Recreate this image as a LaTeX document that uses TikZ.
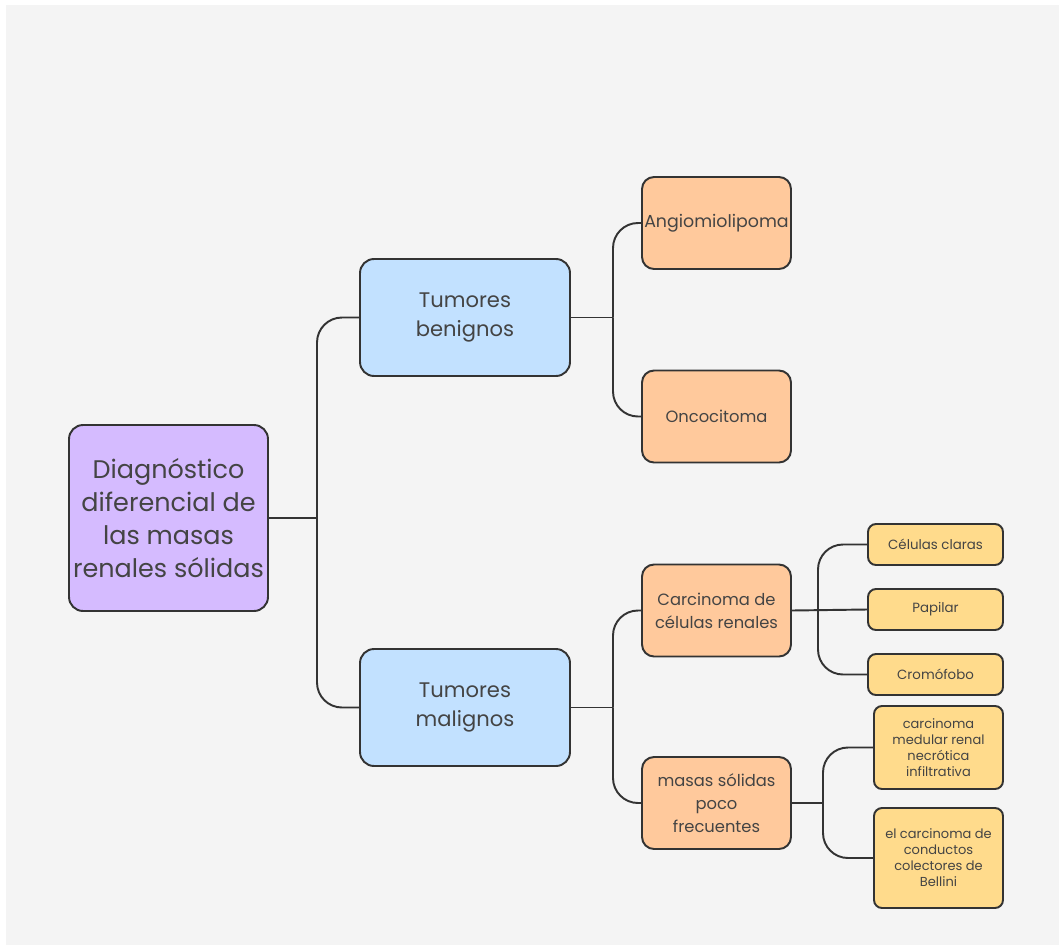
\documentclass[tikz,border=0pt]{standalone}
\usepackage{fontspec}
\setmainfont{Poppins}
\usetikzlibrary{positioning, calc}

\definecolor{canvas}{HTML}{F4F4F4}
\definecolor{inkgray}{HTML}{444444}
\definecolor{edgegray}{HTML}{333333}
\definecolor{rootfill}{HTML}{D5BBFF}
\definecolor{groupfill}{HTML}{C2E1FF}
\definecolor{typefill}{HTML}{FFC99C}
\definecolor{leaffill}{HTML}{FFDB8C}

\begin{document}
\begin{tikzpicture}[
        x=0.02cm, y=-0.02cm,
        box/.style={rectangle, draw=edgegray, line width=1.1pt, text=inkgray, align=center, inner sep=1pt},
        rootbox/.style={box, fill=rootfill, rounded corners=0.28cm, minimum width=3.98cm, minimum height=3.72cm, font=\fontsize{14.5}{18.7}\selectfont},
        groupbox/.style={box, fill=groupfill, rounded corners=0.28cm, minimum width=4.2cm, minimum height=2.34cm, font=\fontsize{12}{16.4}\selectfont},
        typebox/.style={box, fill=typefill, rounded corners=0.24cm, minimum width=2.98cm, minimum height=1.84cm, font=\fontsize{9.3}{13}\selectfont},
        leafbox/.style={box, fill=leaffill, rounded corners=0.16cm, minimum width=2.7cm, minimum height=0.82cm, font=\fontsize{7.6}{9}\selectfont},
        tallleaf/.style={leafbox, minimum width=2.58cm, font=\fontsize{7.4}{9.1}\selectfont},
        conn/.style={draw=edgegray, line width=1.1pt},
        elbow/.style={conn, rounded corners=0.5cm}
    ]
        % canvas
        \fill[white] (0,0) rectangle (1059,947);
        \fill[canvas] (6,5) rectangle (1059,945);

        % Root
        \node[rootbox] (root) at (168.5,518) {Diagnóstico\\diferencial de\\las masas\\renales sólidas};

        % Groups
        \node[groupbox] (benign) at (465,317.5) {Tumores\\benignos};
        \node[groupbox] (malign) at (465,707.5) {Tumores\\malignos};

        \coordinate (rootbus) at (317,518);
        \draw[conn] (root.east) -- (rootbus);
        \draw[elbow] (rootbus) |- (benign.west);
        \draw[elbow] (rootbus) |- (malign.west);

        % Benign tumours
        \node[typebox, inner sep=0pt, font=\fontsize{9.9}{13}\selectfont] (angio) at (716.5,223) {Angiomiolipoma};
        \node[typebox] (onco) at (716.5,416.5) {Oncocitoma};

        \coordinate (benignbus) at (613,317.5);
        \draw[conn] (benign.east) -- (benignbus);
        \draw[elbow] (benignbus) |- (angio.west);
        \draw[elbow] (benignbus) |- (onco.west);

        % Malignant tumours
        \node[typebox] (ccr) at (716.5,610.5) {Carcinoma de\\células renales};
        \node[typebox] (rare) at (716.5,803) {masas sólidas\\poco\\frecuentes};

        \coordinate (malignbus) at (613,707.5);
        \draw[conn] (malign.east) -- (malignbus);
        \draw[elbow] (malignbus) |- (ccr.west);
        \draw[elbow] (malignbus) |- (rare.west);

        % Renal cell subtypes
        \node[leafbox] (clear) at (935.5,544.5) {Células claras};
        \node[leafbox] (papilar) at (935.5,609.5) {Papilar};
        \node[leafbox] (chromo) at (935.5,674.5) {Cromófobo};

        \coordinate (ccrbus) at (818,609.5);
        \draw[conn] (ccr.east) -- (papilar.west);
        \draw[elbow] (ccrbus) |- (clear.west);
        \draw[elbow] (ccrbus) |- (chromo.west);

        % Rare masses
        \node[tallleaf, minimum height=1.66cm] (medular) at (938.5,747.5) {carcinoma\\medular renal\\necrótica\\infiltrativa};
        \node[tallleaf, minimum height=2.0cm] (bellini) at (938.5,858) {el carcinoma de\\conductos\\colectores de\\Bellini};

        \coordinate (rarebus) at (823,803);
        \draw[conn] (rare.east) -- (rarebus);
        \draw[elbow] (rarebus) |- (medular.west);
        \draw[elbow] (rarebus) |- (bellini.west);
\end{tikzpicture}
\end{document}
